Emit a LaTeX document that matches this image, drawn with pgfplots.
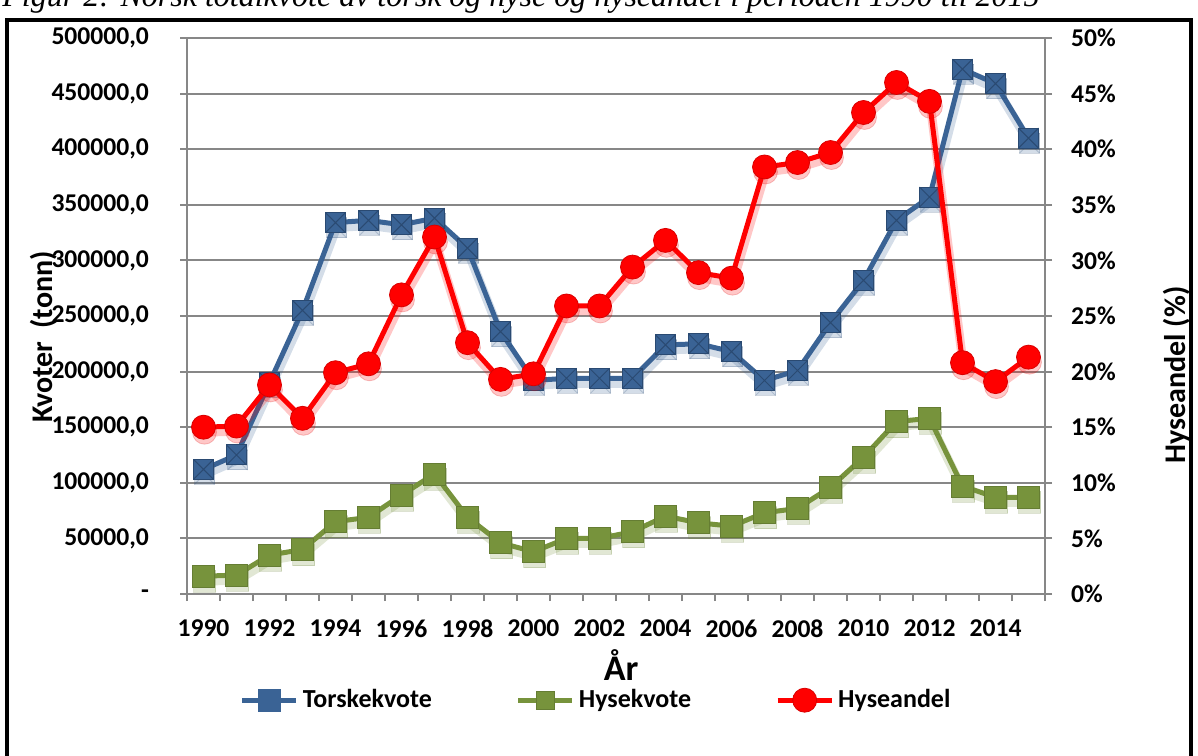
\documentclass[border=0pt]{standalone}
\usepackage{fontspec}
\setmainfont{Carlito}
\newfontfamily\titlefont{Liberation Serif}
\usepackage{pgfplots}
\pgfplotsset{compat=1.18}
\usepackage{pgfplotstable}

\definecolor{torsk}{HTML}{3A6395}
\definecolor{torskedge}{HTML}{2A4A72}
\definecolor{hyse}{HTML}{77933C}
\definecolor{gridgray}{HTML}{878787}

\pgfdeclareplotmark{sqx}{%
 \pgfpathrectangle{\pgfpoint{-\pgfplotmarksize}{-\pgfplotmarksize}}{\pgfpoint{2\pgfplotmarksize}{2\pgfplotmarksize}}%
 \pgfusepathqfillstroke
 \pgfpathmoveto{\pgfpoint{-\pgfplotmarksize}{-\pgfplotmarksize}}\pgfpathlineto{\pgfpoint{\pgfplotmarksize}{\pgfplotmarksize}}%
 \pgfpathmoveto{\pgfpoint{-\pgfplotmarksize}{\pgfplotmarksize}}\pgfpathlineto{\pgfpoint{\pgfplotmarksize}{-\pgfplotmarksize}}%
 \pgfusepathqstroke}

\pgfplotstableread{
Year Torsk Hyse Andel
1990 112000 16000 15.0
1991 125000 17000 15.1
1992 190000 35000 18.8
1993 255000 40000 15.8
1994 334000 65000 19.9
1995 336000 69000 20.7
1996 332000 89000 26.9
1997 338000 108000 32.1
1998 311000 69000 22.6
1999 236000 46000 19.3
2000 192000 38000 19.8
2001 194000 50000 25.9
2002 194000 50000 25.9
2003 194000 56000 29.4
2004 224000 70000 31.8
2005 225000 64000 28.9
2006 218000 61000 28.4
2007 192000 73000 38.4
2008 201000 77000 38.8
2009 244000 96000 39.7
2010 282000 123000 43.3
2011 336000 155000 46.0
2012 357000 158000 44.3
2013 472000 97000 20.8
2014 459000 87000 19.1
2015 410000 87000 21.3
}\datatable

\pgfplotsset{
 torskstyle/.style={color=torsk, line width=2.5pt, mark=sqx, mark size=5pt, mark options={fill=torsk, draw=torskedge, line width=0.5pt}},
 hysestyle/.style={color=hyse, line width=2.5pt, mark=square*, mark size=5.5pt, mark options={fill=hyse, draw=hyse!85!black, line width=0.4pt}},
 andelstyle/.style={color=red, line width=2.5pt, mark=*, mark size=6pt, mark options={fill=red, draw=red!85!black, line width=0.4pt}},
 shadowstyle/.style={opacity=0.22, line width=4.5pt, yshift=-2.5pt, xshift=0.5pt, forget plot},
 commonaxis/.style={
  at={(93.5pt,80.5pt)}, anchor=south west,
  width=429pt, height=278pt, scale only axis,
  xmin=1989.5, xmax=2015.5,
  scaled x ticks=false, scaled y ticks=false,
  axis line style={gridgray, line width=1pt},
  tick style={gridgray, line width=1pt},
  tick align=outside, major tick length=3.5pt, minor tick length=3.5pt,
  tick label style={font=\fontsize{12.8}{15}\selectfont\bfseries},
  label style={font=\fontsize{15}{18}\selectfont\bfseries},
  legend image code/.code={\draw[mark repeat=2,mark phase=2,#1] plot coordinates {(0pt,0pt) (13.5pt,0pt) (27pt,0pt)};},
 },
}

\begin{document}
\begin{tikzpicture}
\useasboundingbox (0,0) rectangle (599pt,377.5pt);
\node[anchor=base west, inner sep=0pt, font=\titlefont\itshape\fontsize{16}{19}\selectfont] at (1pt,374pt) {Figur 2: Norsk totalkvote av torsk og hyse og hyseandel i perioden 1990 til 2015};
\draw[black, line width=2pt] (3.5pt,-20pt) -- (3.5pt,367.5pt) -- (595.5pt,367.5pt) -- (595.5pt,-20pt);

\begin{axis}[commonaxis,
 ymin=0, ymax=500000,
 axis y line*=left, axis x line*=bottom,
 xtick={1990,1992,...,2014},
 xticklabels={1990,1992,1994,1996,1998,2000,2002,2004,2006,2008,2010,2012,2014},
 major x tick style={draw=none},
 minor xtick={1989.5,1990.5,...,2015.5},
 xticklabel style={yshift=-6pt},
 ytick={0,50000,...,500000},
 yticklabels={{-\hspace{4.5pt}},{50000,0},{100000,0},{150000,0},{200000,0},{250000,0},{300000,0},{350000,0},{400000,0},{450000,0},{500000,0}},
 yticklabel style={xshift=-12pt},
 ymajorgrids, grid style={gridgray, line width=1pt},
 ylabel={Kvoter~~(tonn)},
 ylabel style={at={(axis description cs:-0.1667,0.462)}, anchor=center},
 xlabel={År},
 xlabel style={at={(axis description cs:0.506,-0.128)}, anchor=center, font=\fontsize{18}{21}\selectfont\bfseries},
]
\addplot[torskstyle, shadowstyle] table[x=Year, y=Torsk] {\datatable};
\addplot[hysestyle, shadowstyle] table[x=Year, y=Hyse] {\datatable};
\addplot[torskstyle] table[x=Year, y=Torsk] {\datatable};
\addplot[hysestyle] table[x=Year, y=Hyse] {\datatable};
\end{axis}

\begin{axis}[commonaxis,
 ymin=0, ymax=50,
 axis y line*=right, axis x line=none,
 ytick={0,5,...,50},
 yticklabels={0\%,5\%,10\%,15\%,20\%,25\%,30\%,35\%,40\%,45\%,50\%},
 yticklabel style={xshift=6pt},
 ylabel={Hyseandel (\%)},
 ylabel style={at={(axis description cs:1.154,0.394)}, anchor=center},
 legend style={at={(axis description cs:0.478,-0.191)}, anchor=center, legend columns=3, draw=none, fill=none,
   font=\fontsize{13}{15}\selectfont\bfseries,
   /tikz/every even column/.append style={column sep=40pt}},
 legend cell align=left,
]
\addlegendimage{torskstyle, mark=square*, mark size=4.5pt, mark options={fill=torsk, draw=torsk}}
\addlegendentry{Torskekvote}
\addlegendimage{hysestyle, mark size=4.5pt}
\addlegendentry{Hysekvote}
\addplot[andelstyle, shadowstyle] table[x=Year, y=Andel] {\datatable};
\addplot[andelstyle] table[x=Year, y=Andel] {\datatable};
\addlegendentry{Hyseandel}
\end{axis}
\end{tikzpicture}
\end{document}
